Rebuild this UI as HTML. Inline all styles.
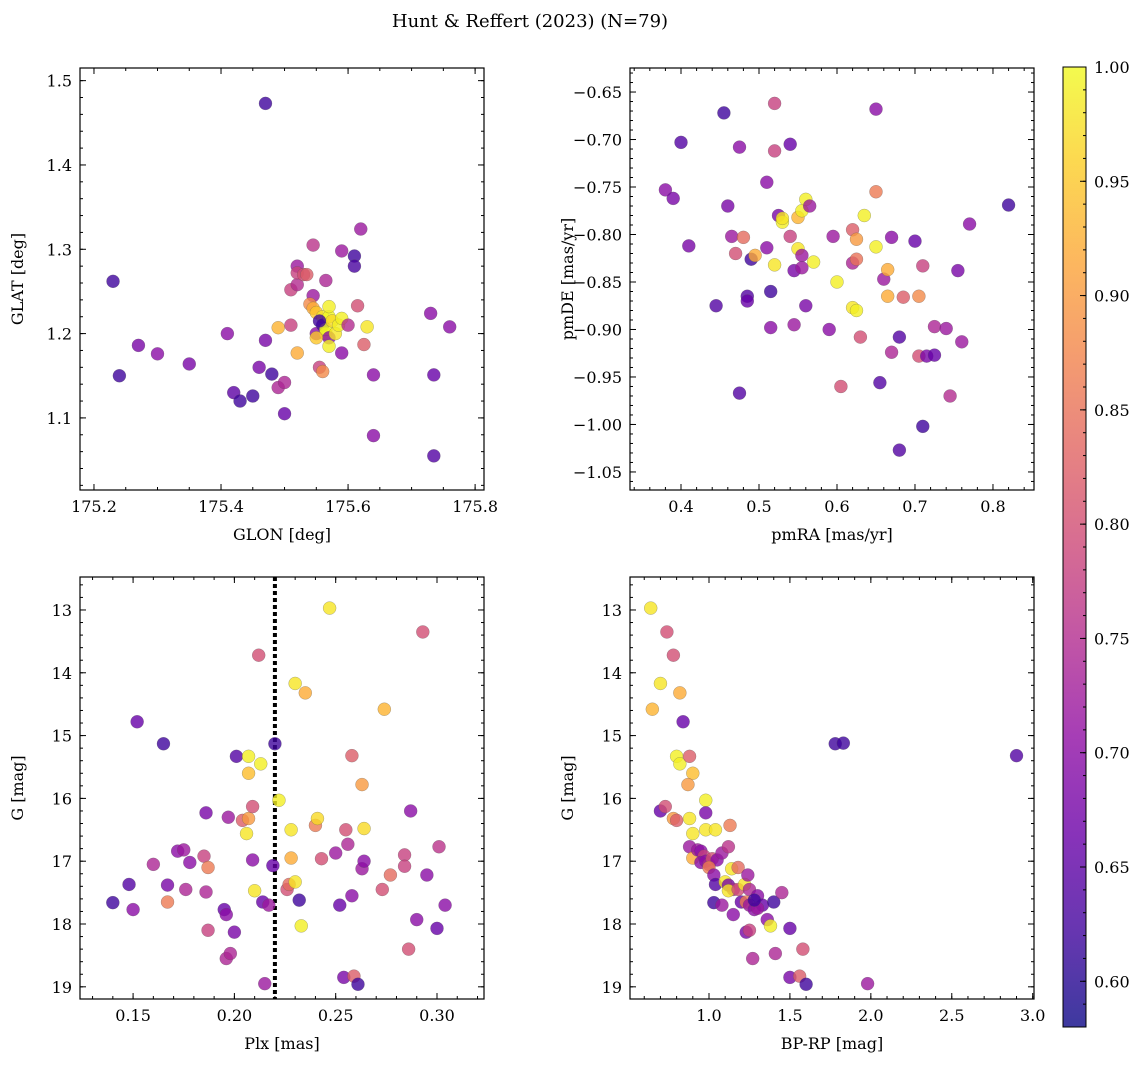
<!DOCTYPE html>
<html><head><meta charset="utf-8"><style>
html,body{margin:0;padding:0;background:#fff;}
svg{display:block;font-family:"DejaVu Serif","Liberation Serif",serif;}
</style></head><body>
<svg id="fig" width="1148" height="1067" viewBox="0 0 1148 1067">
<text x="530" y="27" text-anchor="middle" font-size="18">Hunt &amp; Reffert (2023) (N=79)</text>
<defs><linearGradient id="cbg" x1="0" y1="1" x2="0" y2="0"></linearGradient></defs>
</svg>
<script>
const p1x=[175.23,175.24,175.27,175.30,175.35,175.41,175.42,175.43,175.45,175.46,175.47,175.47,175.48,175.49,175.5,175.5,175.51,175.51,175.52,175.52,175.52,175.53,175.535,175.49,175.52,175.545,175.545,175.54,175.545,175.55,175.55,175.555,175.56,175.56,175.56,175.565,175.565,175.57,175.57,175.565,175.57,175.57,175.575,175.58,175.585,175.59,175.59,175.59,175.6,175.61,175.61,175.615,175.62,175.625,175.63,175.64,175.64,175.73,175.735,175.735,175.76,175.555,175.55];
const p1y=[1.262,1.15,1.186,1.176,1.164,1.2,1.13,1.12,1.126,1.16,1.192,1.473,1.152,1.136,1.142,1.105,1.21,1.252,1.258,1.28,1.272,1.27,1.27,1.207,1.177,1.305,1.245,1.235,1.23,1.225,1.2,1.16,1.155,1.22,1.21,1.2,1.205,1.22,1.232,1.263,1.195,1.185,1.215,1.2,1.21,1.218,1.298,1.177,1.21,1.292,1.28,1.233,1.324,1.187,1.208,1.151,1.079,1.224,1.151,1.055,1.208,1.215,1.195];
const p1c=[0.62,0.62,0.68,0.70,0.68,0.70,0.65,0.62,0.62,0.68,0.68,0.62,0.62,0.74,0.74,0.66,0.78,0.78,0.75,0.72,0.78,0.80,0.82,0.93,0.92,0.76,0.72,0.88,0.92,0.95,0.70,0.78,0.88,0.98,0.62,0.98,1.0,1.0,0.99,0.74,0.70,0.99,0.97,0.98,0.99,0.99,0.72,0.70,0.75,0.62,0.63,0.80,0.72,0.82,0.98,0.70,0.70,0.70,0.66,0.64,0.70,0.62,0.95];
const p2x=[0.38,0.39,0.40,0.41,0.445,0.455,0.46,0.465,0.47,0.475,0.475,0.48,0.485,0.485,0.49,0.495,0.51,0.51,0.515,0.515,0.52,0.52,0.52,0.525,0.53,0.53,0.54,0.54,0.545,0.545,0.55,0.55,0.555,0.555,0.555,0.56,0.56,0.565,0.57,0.59,0.595,0.6,0.605,0.62,0.62,0.62,0.625,0.625,0.625,0.63,0.635,0.65,0.65,0.65,0.655,0.66,0.665,0.665,0.67,0.67,0.68,0.68,0.685,0.7,0.705,0.705,0.71,0.71,0.715,0.725,0.725,0.74,0.745,0.755,0.76,0.77,0.82];
const p2y=[-0.753,-0.762,-0.703,-0.812,-0.875,-0.672,-0.77,-0.802,-0.82,-0.708,-0.967,-0.803,-0.865,-0.87,-0.826,-0.822,-0.745,-0.814,-0.86,-0.898,-0.662,-0.712,-0.832,-0.78,-0.787,-0.783,-0.802,-0.705,-0.895,-0.838,-0.782,-0.815,-0.822,-0.835,-0.775,-0.763,-0.875,-0.77,-0.829,-0.9,-0.802,-0.85,-0.96,-0.795,-0.83,-0.877,-0.88,-0.805,-0.826,-0.908,-0.78,-0.668,-0.755,-0.813,-0.956,-0.847,-0.865,-0.837,-0.924,-0.803,-1.027,-0.908,-0.866,-0.807,-0.928,-0.865,-0.833,-1.002,-0.928,-0.927,-0.897,-0.899,-0.97,-0.838,-0.913,-0.789,-0.769];
const p2c=[0.70,0.68,0.64,0.68,0.64,0.62,0.68,0.72,0.80,0.70,0.64,0.84,0.64,0.66,0.62,0.92,0.70,0.70,0.62,0.70,0.78,0.78,0.98,0.68,0.99,0.98,0.78,0.66,0.72,0.68,0.93,0.98,0.72,0.72,0.99,0.99,0.68,0.72,0.99,0.70,0.72,0.99,0.80,0.82,0.74,0.98,0.99,0.90,0.85,0.80,0.99,0.70,0.86,0.99,0.64,0.72,0.92,0.92,0.74,0.70,0.64,0.64,0.82,0.66,0.80,0.88,0.78,0.62,0.68,0.66,0.74,0.72,0.75,0.68,0.72,0.70,0.62];
const p3x=[0.14,0.148,0.15,0.152,0.16,0.165,0.167,0.167,0.172,0.175,0.176,0.178,0.185,0.186,0.186,0.187,0.187,0.195,0.196,0.196,0.197,0.198,0.2,0.201,0.204,0.206,0.207,0.207,0.207,0.209,0.209,0.21,0.212,0.213,0.214,0.215,0.217,0.219,0.22,0.222,0.226,0.227,0.228,0.228,0.23,0.23,0.232,0.233,0.235,0.24,0.241,0.243,0.247,0.25,0.252,0.254,0.255,0.256,0.258,0.258,0.259,0.261,0.263,0.263,0.264,0.264,0.273,0.274,0.277,0.284,0.284,0.286,0.287,0.29,0.293,0.295,0.3,0.301,0.304];
const p3y=[17.66,17.37,17.77,14.78,17.05,15.13,17.38,17.65,16.84,16.82,17.45,17.02,16.92,16.23,17.49,17.1,18.1,17.77,17.85,18.55,16.3,18.47,18.13,15.33,16.35,16.56,15.6,15.33,16.32,16.98,16.13,17.47,13.72,15.45,17.65,18.95,17.7,17.07,15.13,16.03,17.45,17.37,16.5,16.95,14.17,17.33,17.62,18.03,14.32,16.43,16.32,16.96,12.97,16.87,17.7,18.85,16.5,16.73,15.32,17.55,18.83,18.96,15.78,17.12,17.0,16.48,17.45,14.58,17.22,16.9,17.08,18.4,16.2,17.93,13.35,17.22,18.07,16.77,17.7];
const p3c=[0.62,0.64,0.70,0.66,0.74,0.62,0.68,0.86,0.70,0.72,0.74,0.70,0.78,0.68,0.74,0.86,0.78,0.66,0.70,0.74,0.72,0.74,0.68,0.64,0.82,0.98,0.94,0.99,0.90,0.70,0.80,0.98,0.80,0.99,0.66,0.72,0.72,0.66,0.62,0.99,0.80,0.84,0.98,0.92,0.98,0.98,0.62,0.99,0.92,0.86,0.97,0.80,0.98,0.72,0.66,0.68,0.80,0.74,0.82,0.70,0.82,0.62,0.90,0.72,0.70,0.97,0.80,0.93,0.84,0.78,0.78,0.80,0.70,0.70,0.80,0.70,0.66,0.76,0.70];
const p4x=[0.64,0.65,0.7,0.74,0.78,0.82,0.84,0.8,0.82,0.88,0.9,0.87,0.7,0.73,0.78,0.8,0.88,0.98,0.98,0.9,0.98,1.04,1.13,0.88,0.9,0.93,0.95,0.97,0.95,0.98,1.0,1.02,1.05,1.08,1.12,1.0,1.03,1.04,1.1,1.12,1.14,1.18,1.15,1.12,1.18,1.03,1.08,1.15,1.2,1.22,1.25,1.24,1.23,1.25,1.28,1.3,1.33,1.36,1.4,1.45,1.23,1.25,1.38,1.5,1.27,1.41,1.58,1.5,1.56,1.6,1.98,1.78,1.83,2.9,1.3,1.28];
const p4y=[12.97,14.58,14.17,13.35,13.72,14.32,14.78,15.33,15.45,15.33,15.6,15.78,16.2,16.13,16.32,16.35,16.32,16.03,16.23,16.56,16.5,16.5,16.43,16.77,16.95,16.82,16.84,16.92,17.02,17.0,17.05,16.96,16.98,16.87,16.77,17.1,17.22,17.37,17.33,17.38,17.12,17.1,17.45,17.47,17.45,17.66,17.7,17.85,17.65,17.37,17.45,17.22,17.65,17.7,17.77,17.55,17.7,17.93,17.65,17.5,18.13,18.1,18.03,18.07,18.55,18.47,18.4,18.85,18.83,18.96,18.95,15.13,15.12,15.32,17.75,17.62];
const p4c=[0.98,0.93,0.98,0.80,0.80,0.92,0.66,0.99,0.99,0.82,0.94,0.90,0.66,0.80,0.90,0.82,0.98,0.99,0.68,0.98,0.98,0.98,0.86,0.72,0.92,0.72,0.70,0.78,0.70,0.70,0.74,0.80,0.70,0.72,0.76,0.86,0.70,0.64,0.98,0.68,0.98,0.84,0.74,0.98,0.80,0.62,0.72,0.70,0.66,0.98,0.74,0.72,0.86,0.72,0.70,0.70,0.66,0.70,0.62,0.74,0.68,0.78,0.99,0.66,0.74,0.74,0.80,0.68,0.82,0.62,0.72,0.62,0.62,0.64,0.72,0.62];
const cbTicks=[0.60,0.65,0.70,0.75,0.80,0.85,0.90,0.95,1.00];
const VMIN=0.58, VMAX=1.0;

const NS='http://www.w3.org/2000/svg';
const svg=document.getElementById('fig');
function mk(tag,attrs,parent){const e=document.createElementNS(NS,tag);for(const k in attrs)e.setAttribute(k,attrs[k]);(parent||svg).appendChild(e);return e;}
const stops=[[13,8,135],[65,4,157],[106,0,168],[143,13,164],[177,42,144],[204,71,120],[225,100,98],[242,132,75],[252,166,54],[252,206,37],[240,249,33]];
function plasma(t){t=Math.max(0,Math.min(1,t))*10;const i=Math.min(9,Math.floor(t)),f=t-i;const a=stops[i],b=stops[i+1];return 'rgb('+a.map((v,k)=>Math.round(v+(b[k]-v)*f)).join(',')+')';}
function col(p){return plasma((p-VMIN)/(VMAX-VMIN));}

function panel(name,box,xr,yr,xt,xminor,yt,yminor,xfmt,yfmt,xlab,ylab,xs,ys,cs,extra){
  const [L,T,R,B]=box;
  const sx=v=>L+(v-xr[0])/(xr[1]-xr[0])*(R-L);
  const sy=v=>T+(v-yr[0])/(yr[1]-yr[0])*(B-T);
  const g=mk('g',{});
  
  
  mk('rect',{x:L,y:T,width:R-L,height:B-T,fill:'none',stroke:'#000','stroke-width':1.2},g);
  const tick=(x1,y1,x2,y2)=>mk('line',{x1,y1,x2,y2,stroke:'#000','stroke-width':1},g);
  const lo=Math.min(xr[0],xr[1]),hi=Math.max(xr[0],xr[1]);
  for(let v=Math.ceil(lo/xminor-1e-6)*xminor;v<=hi+1e-9;v+=xminor){const x=sx(v);tick(x,B,x,B-3);tick(x,T,x,T+3);}
  const ylo=Math.min(yr[0],yr[1]),yhi=Math.max(yr[0],yr[1]);
  for(let v=Math.ceil(ylo/yminor-1e-6)*yminor;v<=yhi+1e-9;v+=yminor){const y=sy(v);tick(L,y,L+3,y);tick(R,y,R-3,y);}
  xt.forEach(v=>{const x=sx(v);tick(x,B,x,B-6);tick(x,T,x,T+6);
    const t=mk('text',{x,y:B+22,'text-anchor':'middle','font-size':16},g);t.textContent=xfmt(v);
    });
  yt.forEach(v=>{const y=sy(v);tick(L,y,L+6,y);tick(R,y,R-6,y);
    const t=mk('text',{x:L-8,y:y+6,'text-anchor':'end','font-size':16},g);t.textContent=yfmt(v).replace('-','\u2212');
    });
  const xl=mk('text',{x:(L+R)/2,y:B+50,'text-anchor':'middle','font-size':16},g);xl.textContent=xlab;
  
  const yl=mk('text',{x:0,y:0,'text-anchor':'middle','font-size':16,transform:`translate(${L-57},${(T+B)/2}) rotate(-90)`},g);yl.textContent=ylab;
  
  if(extra)extra(g,sx,sy);
  xs.forEach((v,i)=>{const c=mk('circle',{cx:sx(v),cy:sy(ys[i]),r:6.5,fill:col(cs[i]),'fill-opacity':0.8,stroke:'#555','stroke-width':0.4,'stroke-opacity':0.6},g);
    });
}
const f1=v=>v.toFixed(1),f2=v=>v.toFixed(2);
panel('panel-glon-glat',[80,68,484,490],[175.178,175.814],[1.515,1.0145],[175.2,175.4,175.6,175.8],0.05,[1.1,1.2,1.3,1.4,1.5],0.02,f1,f1,'GLON [deg]','GLAT [deg]',p1x,p1y,p1c);
panel('panel-pm',[630,68,1034,490],[0.3346,0.8526],[-0.6247,-1.069],[0.4,0.5,0.6,0.7,0.8],0.02,[-0.65,-0.7,-0.75,-0.8,-0.85,-0.9,-0.95,-1.0,-1.05],0.01,f1,f2,'pmRA [mas/yr]','pmDE [mas/yr]',p2x,p2y,p2c);
panel('panel-plx-g',[80,577,484,999],[0.1238,0.3232],[12.475,19.194],[0.15,0.2,0.25,0.3],0.01,[13,14,15,16,17,18,19],0.2,f2,v=>String(v),'Plx [mas]','G [mag]',p3x,p3y,p3c,
  (g,sx,sy)=>{const l=mk('line',{x1:sx(0.22),x2:sx(0.22),y1:577,y2:999,stroke:'#000','stroke-width':4,'stroke-dasharray':'4 3'},g);
    });
panel('panel-cmd',[630,577,1034,999],[0.512,3.008],[12.475,19.194],[1.0,1.5,2.0,2.5,3.0],0.1,[13,14,15,16,17,18,19],0.2,f1,v=>String(v),'BP-RP [mag]','G [mag]',p4x,p4y,p4c);

// colorbar
const grad=document.getElementById('cbg');
for(let i=0;i<=10;i++)mk('stop',{offset:i/10,'stop-color':plasma(i/10),'stop-opacity':0.8},grad);
const cb=mk('rect',{x:1063,y:67,width:23,height:960,fill:'url(#cbg)',stroke:'#000','stroke-width':1});


const cy=v=>1027-(v-VMIN)/(VMAX-VMIN)*960;
for(let v=0.59;v<=1.0001;v+=0.01){mk('line',{x1:1086,x2:1083,y1:cy(v),y2:cy(v),stroke:'#000','stroke-width':1});}
cbTicks.forEach(v=>{mk('line',{x1:1086,x2:1080,y1:cy(v),y2:cy(v),stroke:'#000','stroke-width':1});
  const t=mk('text',{x:1094,y:cy(v)+6,'font-size':16});t.textContent=v.toFixed(2);
  
  });
</script>
</body></html>
